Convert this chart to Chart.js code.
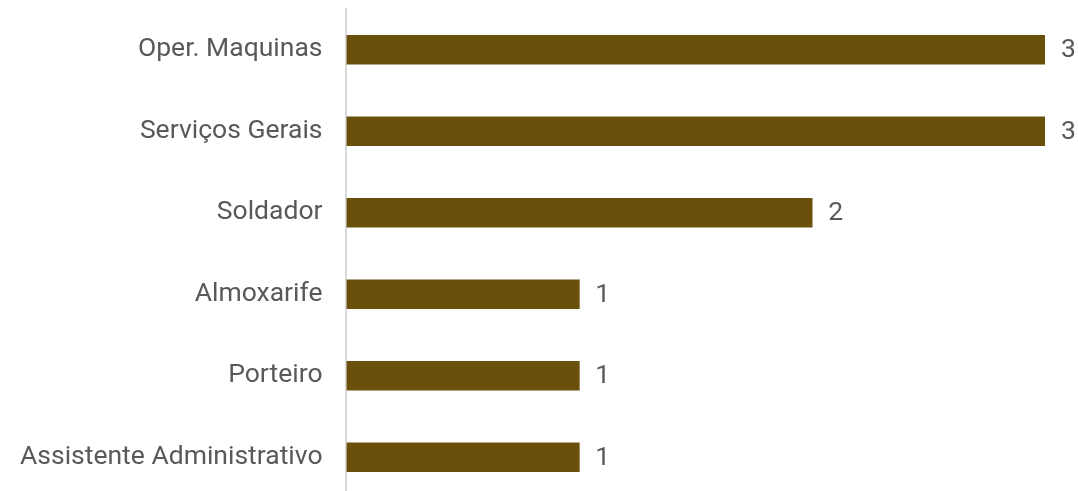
<!DOCTYPE html>
<html>
<head>
<meta charset="utf-8">
<script src="https://cdn.jsdelivr.net/npm/chart.js@4"></script>
<style>
  html, body { margin: 0; padding: 0; background: #fff; overflow: hidden; }
  #wrap { width: 1078px; height: 498px; }
</style>
</head>
<body>
<div id="wrap"><canvas id="cargos"></canvas></div>
<script>
const cargos = ["Oper. Maquinas", "Serviços Gerais", "Soldador", "Almoxarife", "Porteiro", "Assistente Administrativo"];
const quantidade = [3, 3, 2, 1, 1, 1];

const rotulosValor = {
    id: 'rotulosValor',
    afterDatasetsDraw(chart) {
        const ctx = chart.ctx;
        const meta = chart.getDatasetMeta(0);
        ctx.save();
        ctx.font = '26.5px Roboto';
        ctx.fillStyle = '#595959';
        ctx.textAlign = 'left';
        ctx.textBaseline = 'middle';
        meta.data.forEach((bar, i) => {
            ctx.fillText(quantidade[i], bar.x + 16, bar.y + 1);
        });
        ctx.restore();
    }
};

const ctx = document.getElementById("cargos").getContext("2d");
new Chart(ctx, {
    type: "bar",
    data: {
        labels: cargos,
        datasets: [{
            data: quantidade,
            backgroundColor: "#6b500c",
            barThickness: 29,
        }]
    },
    options: {
        indexAxis: 'y',
        responsive: true,
        maintainAspectRatio: false,
        animation: false,
        layout: { padding: { left: 20, right: 33, top: 9, bottom: 0 } },
        plugins: {
            legend: { display: false },
            tooltip: { enabled: false }
        },
        scales: {
            x: { display: false, min: 0, max: 3 },
            y: {
                grid: { display: false, drawTicks: false },
                border: { display: true, color: '#d9d9d9', width: 2 },
                ticks: { color: '#595959', font: { family: 'Roboto', size: 26.5 }, padding: 24 },
                afterFit(scale) {
                    scale.paddingTop = 0;
                    scale.paddingBottom = 0;
                    scale.width -= 24;
                }
            }
        }
    },
    plugins: [rotulosValor]
});
</script>
</body>
</html>
